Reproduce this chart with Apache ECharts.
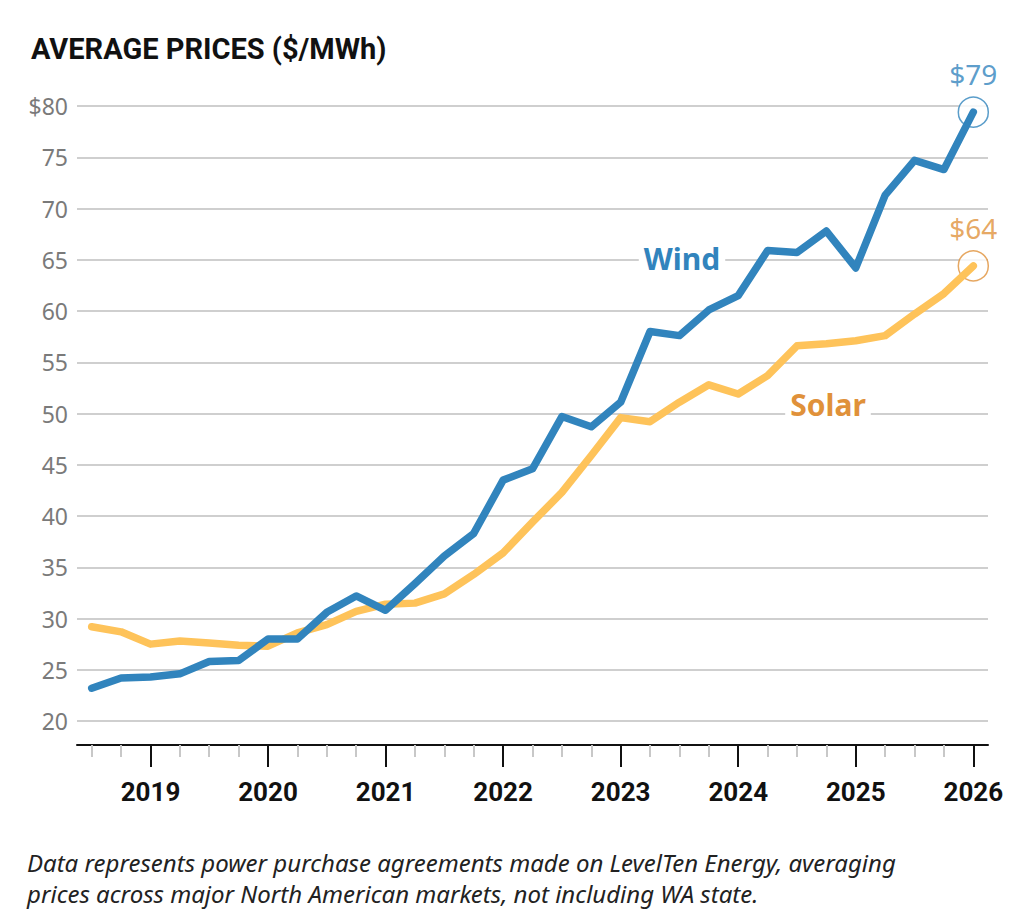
<!DOCTYPE html>
<html>
<head>
<meta charset="utf-8">
<script src="https://cdn.jsdelivr.net/npm/echarts@6/dist/echarts.min.js"></script>
<style>
  html, body { margin: 0; padding: 0; background: #fff; }
  #chart { width: 1020px; height: 923px; }
</style>
</head>
<body>
<div id="chart"></div>
<script>
// quarters, 2018 Q3 .. 2026 Q1
var quarters = [2018.5, 2018.75, 2019, 2019.25, 2019.5, 2019.75, 2020, 2020.25, 2020.5, 2020.75,
  2021, 2021.25, 2021.5, 2021.75, 2022, 2022.25, 2022.5, 2022.75, 2023, 2023.25, 2023.5, 2023.75,
  2024, 2024.25, 2024.5, 2024.75, 2025, 2025.25, 2025.5, 2025.75, 2026];
var wind = [23.2, 24.2, 24.3, 24.6, 25.8, 25.9, 28.0, 28.0, 30.6, 32.2,
  30.8, 33.4, 36.1, 38.3, 43.5, 44.6, 49.7, 48.7, 51.1, 58.0, 57.6, 60.1,
  61.5, 65.9, 65.7, 67.8, 64.2, 71.3, 74.7, 73.8, 79.4];
var solar = [29.2, 28.7, 27.5, 27.8, 27.6, 27.4, 27.3, 28.6, 29.4, 30.7,
  31.4, 31.5, 32.4, 34.3, 36.4, 39.4, 42.3, 45.9, 49.6, 49.2, 51.1, 52.8,
  51.9, 53.7, 56.6, 56.8, 57.1, 57.6, 59.7, 61.7, 64.4];
var years = [2019, 2020, 2021, 2022, 2023, 2024, 2025, 2026];
var minorTicks = quarters.filter(function (q) { return years.indexOf(q) < 0; });

var windColor = '#3184bd';
var solarColor = '#fec35a';
var solarText = '#e0913a';

function pairs(vals) {
  return vals.map(function (v, i) { return [quarters[i], v]; });
}

var chart = echarts.init(document.getElementById('chart'), null, {renderer: 'svg'});

var xBase = {
  type: 'value',
  min: 2018.375,
  max: 2026.125,
  position: 'bottom',
  offset: 24,
  splitLine: {show: false}
};

option = {
  backgroundColor: '#fff',
  animation: false,
  title: {
    text: 'AVERAGE PRICES ($/MWh)',
    left: 26,
    top: 29,
    textStyle: {
      fontFamily: 'Roboto',
      fontWeight: 'bold',
      fontSize: 29,
      color: '#111'
    }
  },
  grid: {left: 77, right: 32, top: 106, bottom: 202},
  xAxis: [
    Object.assign({}, xBase, {
      axisLine: {show: true, lineStyle: {color: '#111', width: 2}},
      axisTick: {show: true, customValues: minorTicks, length: 12,
        lineStyle: {color: '#c8c8c8', width: 2}},
      axisLabel: {show: false}
    }),
    Object.assign({}, xBase, {
      axisLine: {show: false},
      axisTick: {show: true, customValues: years, length: 22,
        lineStyle: {color: '#111', width: 2}},
      axisLabel: {
        show: true,
        customValues: years,
        margin: 34,
        fontFamily: 'Roboto',
        fontWeight: 'bold',
        fontSize: 26,
        color: '#111',
        formatter: function (v) { return String(v); }
      }
    })
  ],
  yAxis: {
    type: 'value',
    min: 20,
    max: 80,
    interval: 5,
    axisLine: {show: false},
    axisTick: {show: false},
    splitLine: {lineStyle: {color: '#cfcfcf', width: 2}},
    axisLabel: {
      margin: 9,
      fontFamily: 'Noto Sans',
      fontSize: 23,
      color: '#7a7a7a',
      formatter: function (v) { return v === 80 ? '$80' : String(v); }
    }
  },
  series: [
    {
      name: 'Solar end',
      type: 'scatter',
      z: 1,
      symbolSize: 30,
      data: [[quarters[quarters.length - 1], solar[solar.length - 1]]],
      itemStyle: {color: '#fff', borderColor: solarText, borderWidth: 1.5},
      label: {
        show: true, position: 'top', distance: 8,
        formatter: '$' + Math.round(solar[solar.length - 1]),
        fontFamily: 'Noto Sans', fontSize: 28, color: solarText
      }
    },
    {
      name: 'Wind end',
      type: 'scatter',
      z: 1,
      symbolSize: 30,
      data: [[quarters[quarters.length - 1], wind[wind.length - 1]]],
      itemStyle: {color: '#fff', borderColor: windColor, borderWidth: 1.5},
      label: {
        show: true, position: 'top', distance: 8,
        formatter: '$' + Math.round(wind[wind.length - 1]),
        fontFamily: 'Noto Sans', fontSize: 28, color: windColor
      }
    },
    {
      name: 'Solar',
      type: 'line',
      z: 2,
      showSymbol: false,
      data: pairs(solar),
      lineStyle: {color: solarColor, width: 7.5, cap: 'round', join: 'round'}
    },
    {
      name: 'Wind',
      type: 'line',
      z: 3,
      showSymbol: false,
      data: pairs(wind),
      lineStyle: {color: windColor, width: 7.5, cap: 'round', join: 'round'}
    }
  ],
  graphic: [
    {
      type: 'text', x: 682, y: 258, z: 10,
      style: {
        text: 'Wind', align: 'center', verticalAlign: 'middle',
        font: 'bold 30px "Noto Sans"', fill: windColor,
        backgroundColor: '#fff', padding: [0, 5]
      }
    },
    {
      type: 'text', x: 828, y: 404, z: 10,
      style: {
        text: 'Solar', align: 'center', verticalAlign: 'middle',
        font: 'bold 30px "Noto Sans"', fill: solarText,
        backgroundColor: '#fff', padding: [0, 5]
      }
    },
    {
      type: 'text', x: 27, y: 850, z: 10,
      style: {
        text: 'Data represents power purchase agreements made on LevelTen Energy, averaging',
        font: 'italic 24px "Noto Sans"', fill: '#222'
      }
    },
    {
      type: 'text', x: 27, y: 881, z: 10,
      style: {
        text: 'prices across major North American markets, not including WA state.',
        font: 'italic 24px "Noto Sans"', fill: '#222'
      }
    }
  ]
};

chart.setOption(option);
</script>
</body>
</html>
